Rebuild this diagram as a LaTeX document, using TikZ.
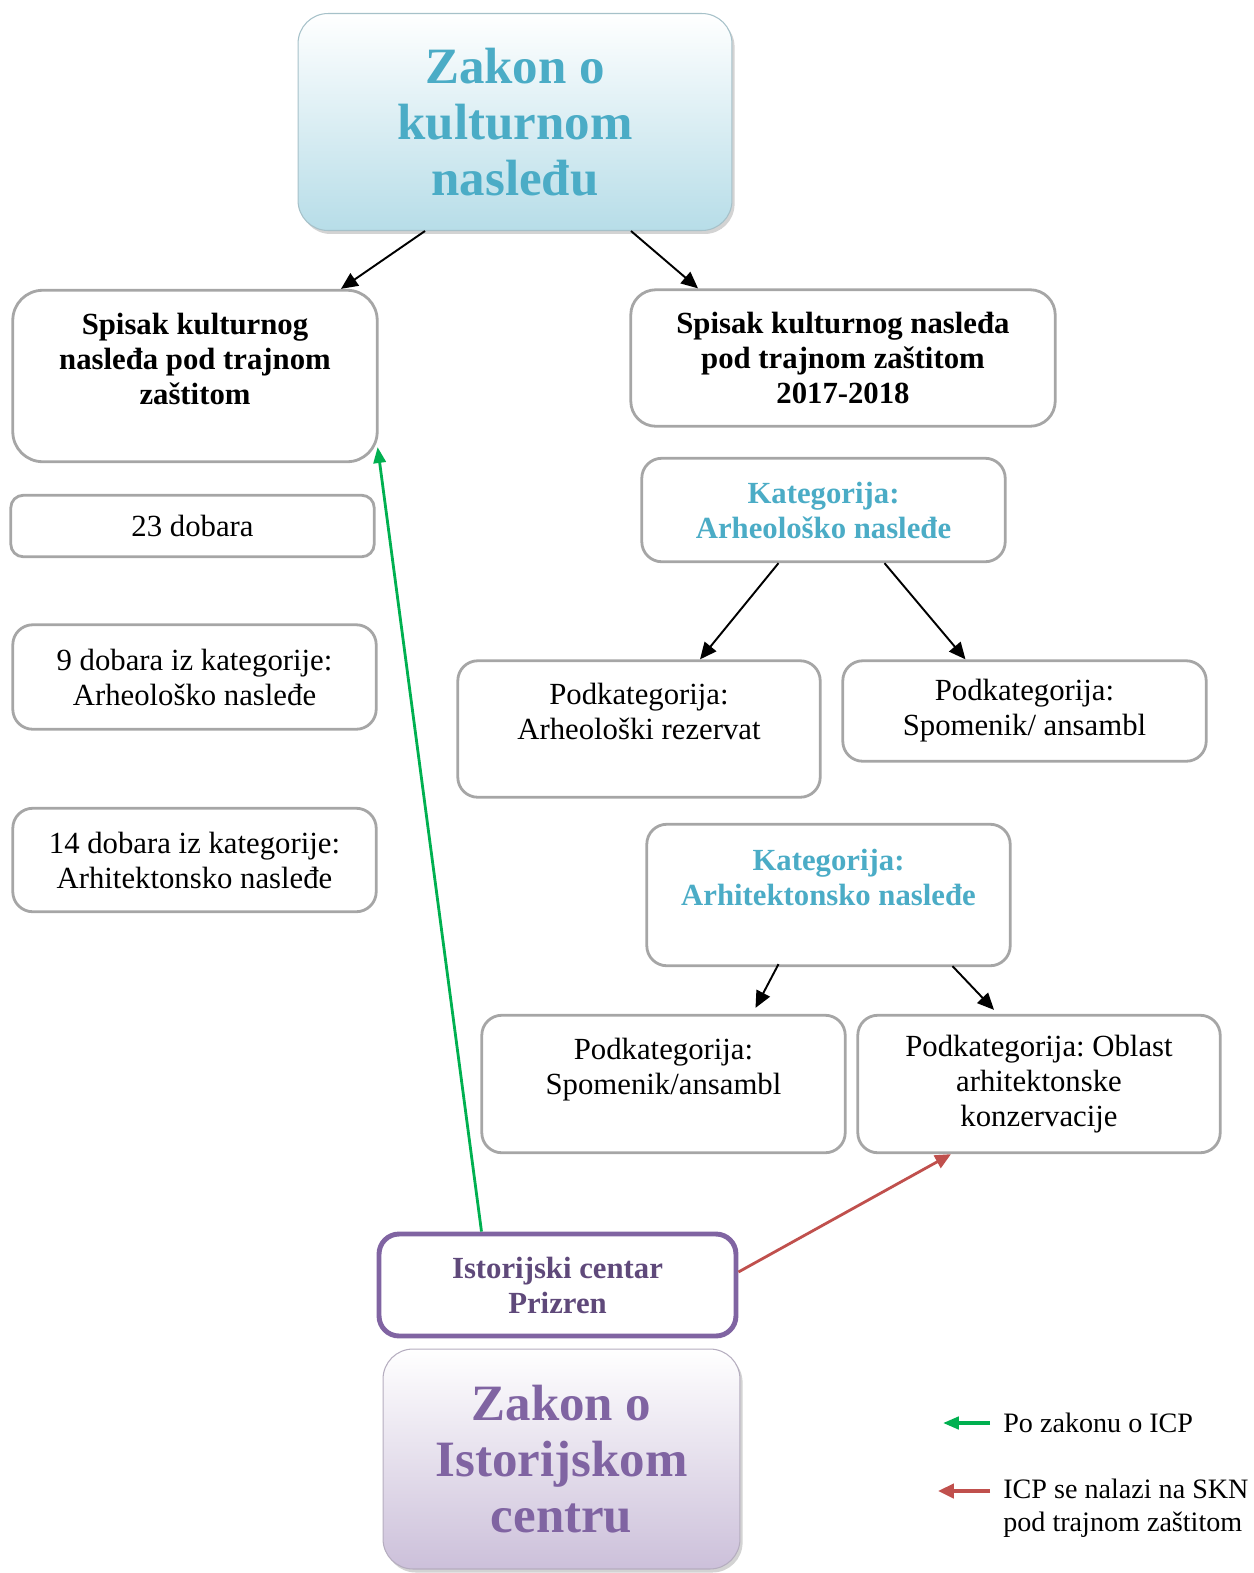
\documentclass[tikz,border=0pt]{standalone}
\usepackage{fontspec}
\setmainfont{Liberation Serif}
\usepackage{xcolor}
\usepackage{tikz}
\usetikzlibrary{arrows.meta, positioning, calc, shadows}
\frenchspacing

\definecolor{kncyan}{HTML}{4BACC6}
\definecolor{knlight}{HTML}{B7DDE8}
\definecolor{icpurple}{HTML}{8064A2}
\definecolor{icdark}{HTML}{5F497A}
\definecolor{iclight}{HTML}{CCC0DA}
\definecolor{boxgray}{HTML}{A6A6A6}
\definecolor{legred}{HTML}{C0504D}
\definecolor{leggreen}{HTML}{00B050}

\begin{document}
\begin{tikzpicture}[
    x=0.02cm, y=-0.02cm,
    box/.style={rectangle, draw=boxgray, line width=1.6pt, rounded corners=0.4cm,
                minimum width=7.27cm, align=center, inner sep=0pt,
                font=\fontsize{17.5}{19.9}\selectfont},
    katbox/.style={box, font=\fontsize{17.5}{19.9}\selectfont\bfseries, text=kncyan},
    lawbox/.style={rectangle, rounded corners=0.6cm, line width=0.6pt, align=center,
                   font=\fontsize{29}{31.9}\selectfont\bfseries,
                   drop shadow={opacity=0.35, shadow xshift=1.5pt, shadow yshift=-2pt}},
    icpbox/.style={rectangle, draw=icpurple, line width=2.8pt, rounded corners=0.4cm,
                   align=center, inner sep=0pt, text=icdark,
                   font=\fontsize{17.5}{19.9}\selectfont\bfseries},
    legtxt/.style={anchor=west, align=left, inner sep=0pt,
                   font=\fontsize{16}{18.9}\selectfont},
    arr/.style={-{Triangle[length=9.5pt,width=8.5pt]}, line width=1.1pt, black},
    garr/.style={-{Triangle[length=9pt,width=7pt]}, line width=1.6pt, leggreen},
    rarr/.style={-{Triangle[length=9pt,width=8pt]}, line width=1.6pt, legred}
]
\useasboundingbox (0,0) rectangle (1254,1573);

% laws
\node[lawbox, draw=knlight!70!gray, top color=white, bottom color=knlight,
      text=kncyan, minimum width=8.68cm, minimum height=4.34cm]
      (zkn) at (515,122) {Zakon o\\kulturnom\\nasleđu};
\node[lawbox, draw=iclight!70!gray, top color=white, bottom color=iclight,
      text=icpurple, minimum width=7.14cm, minimum height=4.4cm]
      (zic) at (561.5,1459) {Zakon o\\Istorijskom\\centru};

% left column
\node[box, font=\fontsize{17.5}{19.9}\selectfont\bfseries, rounded corners=0.6cm,
      minimum width=7.29cm, minimum height=3.43cm]
      (spl) at (195,376) {Spisak kulturnog\\nasleđa pod trajnom\\zaštitom\\~};
\node[box, rounded corners=0.25cm, minimum height=1.23cm]
      (d23) at (192.5,526) {23 dobara};
\node[box, minimum height=2.09cm] (d9) at (194.5,677)
      {9 dobara iz kategorije:\\Arheološko nasleđe};
\node[box, minimum height=2.07cm] (d14) at (194.5,860)
      {14 dobara iz kategorije:\\Arhitektonsko nasleđe};

% right column
\node[box, font=\fontsize{17.5}{19.9}\selectfont\bfseries, rounded corners=0.5cm,
      minimum width=8.49cm, minimum height=2.73cm]
      (spr) at (843,358) {Spisak kulturnog nasleđa\\pod trajnom zaštitom\\2017-2018};
\node[katbox, minimum height=2.07cm] (kata) at (823.5,510)
      {Kategorija:\\Arheološko nasleđe};
\node[box, minimum width=7.25cm, minimum height=2.73cm] (poda) at (639,729)
      {Podkategorija:\\Arheološki rezervat\\~};
\node[box, minimum height=2.01cm] (spoma) at (1024.5,711)
      {Podkategorija:\\Spomenik/ ansambl};
\node[katbox, minimum height=2.83cm] (katb) at (828.5,895)
      {Kategorija:\\Arhitektonsko nasleđe\\~};
\node[box, minimum height=2.75cm] (podb) at (663.5,1084)
      {Podkategorija:\\Spomenik/ansambl\\~};
\node[box, minimum width=7.25cm, minimum height=2.75cm] (obl) at (1039,1084)
      {Podkategorija: Oblast\\arhitektonske\\konzervacije};

% historic centre
\node[icpbox, minimum width=7.14cm, minimum height=2.04cm] (ist) at (557.5,1285)
      {Istorijski centar\\Prizren};

% legend
\node[legtxt] (lg1) at (1003,1423) {Po zakonu o ICP};
\node[legtxt] (lg2) at (1003,1508) {ICP se nalazi na SKN\\pod trajnom zaštitom};

% connectors
\draw[arr] ($(zkn.south)+(-90,0)$) -- ($(spl.north)+(146,0)$);
\draw[arr] ($(zkn.south)+(116,0)$) -- ($(spr.north)+(-145,0)$);
\draw[arr] ($(kata.south)+(-45,0)$) -- ($(poda.north)+(61,0)$);
\draw[arr] ($(kata.south)+(61,0)$) -- ($(spoma.north)+(-59,0)$);
\draw[arr] ($(katb.south)+(-50,-3)$) -- ($(podb.north)+(92,-6)$);
\draw[arr] ($(katb.south)+(124,-1)$) -- ($(obl.north)+(-45,-4)$);
\draw[garr] ($(ist.north)+(-76,0)$) -- ($(spl.south east)+(-1,-16)$);
\draw[rarr] ($(ist.east)+(0,-13)$) -- ($(obl.south)+(-88,0)$);
\draw[garr, line width=2pt] ($(lg1.west)+(-13,0)$) -- ++(-47,0);
\draw[rarr, line width=2.4pt] ($(lg2.west)+(-13,-17)$) -- ++(-52,0);
\end{tikzpicture}
\end{document}
